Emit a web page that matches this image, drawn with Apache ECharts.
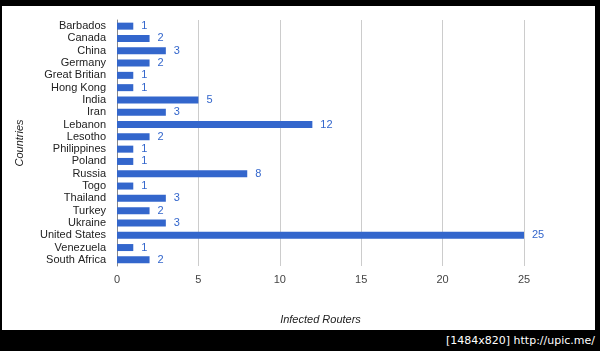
<!DOCTYPE html>
<html>
<head>
<meta charset="utf-8">
<script src="https://cdn.jsdelivr.net/npm/echarts@6/dist/echarts.min.js"></script>
<style>
  html, body { margin: 0; padding: 0; background: #000; }
  #wrap { position: relative; width: 600px; height: 351px; background: #000; overflow: hidden; }
  #chart { position: absolute; left: 2px; top: 6px; width: 593px; height: 324px; background: #fff; }
  #mark { position: absolute; right: 5px; bottom: 4px; color: #fff; font-family: "DejaVu Sans", sans-serif; font-size: 11px; }
</style>
</head>
<body>
<div id="wrap">
  <div id="chart"></div>
  <div id="mark">[1484x820] http://upic.me/</div>
</div>
<script>
// countries top -> bottom
var countries = ["Barbados", "Canada", "China", "Germany", "Great Britian", "Hong Kong",
  "India", "Iran", "Lebanon", "Lesotho", "Philippines", "Poland", "Russia", "Togo",
  "Thailand", "Turkey", "Ukraine", "United States", "Venezuela", "South Africa"];
var routers = [1, 2, 3, 2, 1, 1, 5, 3, 12, 2, 1, 1, 8, 1, 3, 2, 3, 25, 1, 2];
var xTicks = [0, 5, 10, 15, 20, 25];

var chart = echarts.init(document.getElementById("chart"));
var option = {
  animation: false,
  backgroundColor: "#fff",
  textStyle: { fontFamily: "Arial, 'Liberation Sans', sans-serif" },
  grid: { left: 115, right: 71, top: 14, bottom: 60 },
  xAxis: {
    type: "value",
    min: xTicks[0],
    max: xTicks[xTicks.length - 1],
    interval: 5,
    name: "Infected Routers",
    nameLocation: "middle",
    nameGap: 48,
    nameTextStyle: { fontStyle: "italic", fontSize: 11, color: "#222" },
    axisLine: { show: false },
    axisTick: { show: false },
    axisLabel: { fontSize: 11, color: "#444", margin: 8 },
    splitLine: { lineStyle: { color: "#ccc" } }
  },
  yAxis: {
    type: "category",
    inverse: true,
    data: countries,
    name: "Countries",
    nameLocation: "middle",
    nameRotate: 90,
    nameGap: 92,
    nameTextStyle: { fontStyle: "italic", fontSize: 11, color: "#222" },
    axisLine: { lineStyle: { color: "#888" } },
    axisTick: { show: false },
    axisLabel: { interval: 0, fontSize: 11, color: "#222", margin: 11 }
  },
  series: [{
    type: "bar",
    data: routers,
    barWidth: 7,
    itemStyle: { color: "#3366cc" },
    label: {
      show: true,
      position: "right",
      distance: 8,
      fontSize: 11,
      color: "#3366cc"
    }
  }]
};
chart.setOption(option);
</script>
</body>
</html>
